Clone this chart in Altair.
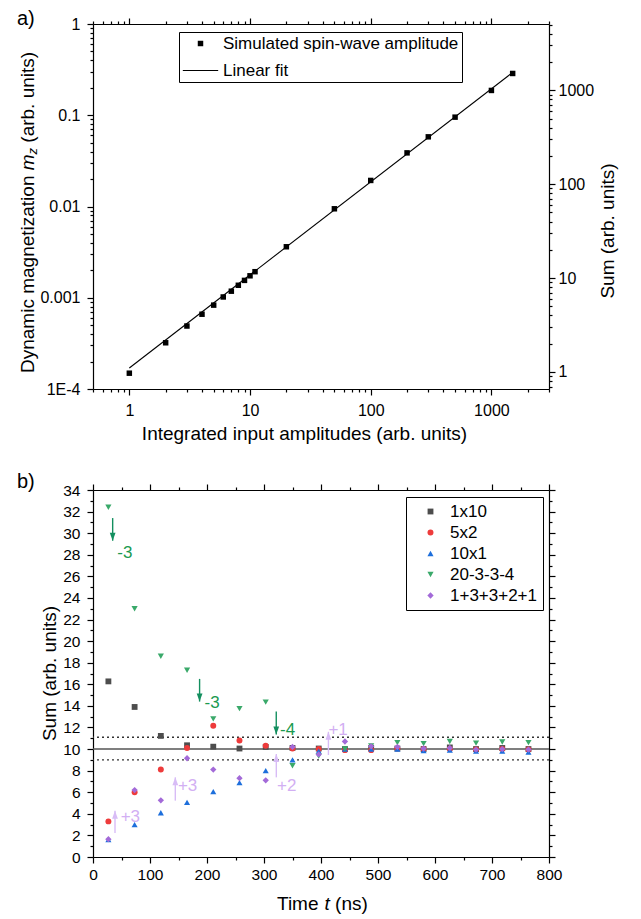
import json
import altair as alt
import pandas as pd

FONT = "Liberation Sans"

# ---------------- panel a) data ----------------
amp_x = [1, 2, 3, 4, 5, 6, 7, 8, 9, 10, 11, 20, 50, 100, 200, 300, 500, 1000, 1500]
amp_m = [1.49e-4, 3.21e-4, 4.9e-4, 6.6e-4, 8.3e-4, 1.02e-3, 1.18e-3, 1.37e-3, 1.55e-3,
         1.74e-3, 1.93e-3, 3.62e-3, 9.44e-3, 0.0193, 0.0387, 0.058, 0.0953, 0.187, 0.287]
fit_x = [1, 1500]
fit_m = [1.7e-4, 0.295]
legend_a = ["Simulated spin-wave amplitude", "Linear fit"]

ax_major = [1, 10, 100, 1000]
ax_labels = ["1", "10", "100", "1000"]
ax_minor = [0.5, 0.6, 0.7, 0.8, 0.9, 2, 3, 4, 5, 6, 7, 8, 9, 20, 30, 40, 50, 60, 70, 80, 90,
            200, 300, 400, 500, 600, 700, 800, 900, 2000, 3000]
ay_major = [0.0001, 0.001, 0.01, 0.1, 1]
ay_labels = ["1E-4", "0.001", "0.01", "0.1", "1"]
ay_minor = [0.0002, 0.0003, 0.0004, 0.0005, 0.0006, 0.0007, 0.0008, 0.0009,
            0.002, 0.003, 0.004, 0.005, 0.006, 0.007, 0.008, 0.009,
            0.02, 0.03, 0.04, 0.05, 0.06, 0.07, 0.08, 0.09,
            0.2, 0.3, 0.4, 0.5, 0.6, 0.7, 0.8, 0.9]
sum_major = [1, 10, 100, 1000]
sum_labels = ["1", "10", "100", "1000"]
sum_minor = [0.7, 0.8, 0.9, 2, 3, 4, 5, 6, 7, 8, 9, 20, 30, 40, 50, 60, 70, 80, 90,
             200, 300, 400, 500, 600, 700, 800, 900, 2000, 3000, 4000, 5000]

# ---------------- panel b) data ----------------
times = [27, 73, 119, 165, 211, 257, 303, 350, 396, 442, 488, 534, 580, 626, 672, 718, 764]
series_names = ["1x10", "5x2", "10x1", "20-3-3-4", "1+3+3+2+1"]
s_1x10 = [16.27, 13.9, 11.22, 10.35, 10.22, 10.05, 10.2, 10.1, 10.05, 10.0, 10.1, 10.05, 10.0, 10.15, 10.0, 10.1, 10.0]
s_5x2 = [3.3, 6.0, 8.1, 10.1, 12.15, 10.8, 10.3, 10.05, 10.0, 9.9, 9.9, 10.05, 10.0, 10.0, 9.95, 10.0, 9.95]
s_10x1 = [1.6, 3.0, 4.1, 5.05, 6.05, 6.9, 8.0, 9.0, 9.8, 10.0, 10.0, 10.0, 9.85, 9.9, 9.8, 9.8, 9.72]
s_20334 = [32.4, 23.0, 18.6, 17.3, 12.8, 13.75, 14.35, 8.45, 9.35, 10.0, 10.3, 10.6, 10.5, 10.7, 10.55, 10.65, 10.6]
s_13321 = [1.65, 6.2, 5.25, 9.15, 8.1, 7.3, 7.1, 10.2, 9.5, 10.7, 10.25, 10.2, 10.05, 10.1, 9.95, 10.0, 9.95]
series_vals = [s_1x10, s_5x2, s_10x1, s_20334, s_13321]
series_colors = ["#4d4d4d", "#ee3b3b", "#1d6fdc", "#3aa96a", "#a36ad8"]
series_shapes = ["square", "circle", "triangle-up", "triangle-down", "diamond"]
series_sizes = [34, 40, 48, 48, 48]

ref_solid = [10.0]
ref_dotted = [11.1, 9.0]

x_major_b = [0, 100, 200, 300, 400, 500, 600, 700, 800]
x_minor_b = [50, 150, 250, 350, 450, 550, 650, 750]
y_major_b = [0, 2, 4, 6, 8, 10, 12, 14, 16, 18, 20, 22, 24, 26, 28, 30, 32, 34]
y_minor_b = [1, 3, 5, 7, 9, 11, 13, 15, 17, 19, 21, 23, 25, 27, 29, 31, 33]

green_t = [34.5, 187, 321.5]
green_from = [31.4, 16.5, 13.47]
green_to = [29.3, 14.4, 11.35]
green_lab_t = [56, 209, 341.5]
green_lab_y = [28.2, 14.3, 11.8]
green_lab = ["-3", "-3", "-4"]

purple_t = [38.6, 144.4, 321.6, 413]
purple_from = [2.22, 5.22, 7.38, 9.45]
purple_to = [4.29, 7.38, 9.54, 11.6]
purple_lab_t = [65.5, 166, 340, 430]
purple_lab_y = [3.74, 6.6, 6.6, 11.8]
purple_lab = ["+3", "+3", "+2", "+1"]


# ---------------- helpers ----------------
def label_expr(vals, labels):
    e = "''"
    for v, l in reversed(list(zip(vals, labels))):
        e = f"datum.value == {v} ? '{l}' : {e}"
    return e


def tsize(major, big=6, small=3):
    return {"condition": {"test": f"indexof({json.dumps(major)}, datum.value) >= 0", "value": big},
            "value": small}


def axis(orient, major, minor, labels=None, size=16, pad=7):
    kw = dict(orient=orient, values=sorted(major + minor), tickSize=tsize(major), title=None,
              grid=False, tickColor="black", tickWidth=1.2, domainColor="black",
              domainWidth=1.2, labelOverlap=False, labelFlush=False, labelBound=False)
    if labels is None:
        kw["labels"] = False
    else:
        kw.update(labelExpr=label_expr(major, labels), labelFont=FONT, labelFontSize=size,
                  labelColor="black", labelPadding=pad)
    return alt.Axis(**kw)


def txt(text, x, y, size=19, angle=0, align="center", baseline="middle", style="normal",
        color="black"):
    return alt.Chart(pd.DataFrame({"d": [0]})).mark_text(
        text=text, font=FONT, fontSize=size, angle=angle, align=align, baseline=baseline,
        fontStyle=style, color=color
    ).encode(x=alt.value(x), y=alt.value(y))


# ---------------- panel a) ----------------
dfa = pd.DataFrame({"x": amp_x, "m": amp_m, "serA": legend_a[0]})
dff = pd.DataFrame({"x": fit_x, "m": fit_m})
dfs = pd.DataFrame({"x": ax_major, "s": sum_major})

xs_a = alt.Scale(type="log", domain=[0.5, 3000], nice=False)
ys_a = alt.Scale(type="log", domain=[1e-4, 1], nice=False)
ss_a = alt.Scale(type="log", domain=[0.659, 5080], nice=False)

# legend symbol for the fit: a thin filled bar that reads as a line
FIT_SYMBOL = "M-1,-0.035L1,-0.035L1,0.035L-1,0.035Z"

leg_a = alt.Legend(title=None, orient="none", legendX=86, legendY=8, strokeColor="black",
                   fillColor="white", padding=3, labelFont=FONT, labelFontSize=17,
                   labelColor="black", labelOffset=4, rowPadding=-6, labelLimit=400)

line_a = alt.Chart(dff).mark_line(color="black", strokeWidth=1.1).encode(
    x=alt.X("x:Q", scale=xs_a, axis=None),
    y=alt.Y("m:Q", scale=ys_a, axis=None),
)
pts_a = alt.Chart(dfa).mark_point(filled=True, color="black", opacity=1).encode(
    x=alt.X("x:Q", scale=xs_a, axis=axis("bottom", ax_major, ax_minor, ax_labels, 16, 7)),
    y=alt.Y("m:Q", scale=ys_a, axis=axis("left", ay_major, ay_minor, ay_labels, 16, 7)),
    shape=alt.Shape("serA:N", scale=alt.Scale(domain=legend_a, range=["square", FIT_SYMBOL]),
                    legend=leg_a),
    size=alt.Size("serA:N", scale=alt.Scale(domain=legend_a, range=[30, 1250]), legend=leg_a),
)
sum_a = alt.Chart(dfs).mark_point(opacity=0).encode(
    x=alt.X("x:Q", scale=xs_a, axis=axis("top", ax_major, ax_minor)),
    y=alt.Y("s:Q", scale=ss_a, axis=axis("right", sum_major, sum_minor, sum_labels, 16, 3)),
)

texts_a = [
    txt("a)", -76, -15, size=20, align="left", baseline="top"),
    txt("Dynamic magnetization", -65.4, 349, angle=270, align="left"),
    txt("m", -65.4, 146.3, angle=270, align="left", style="italic"),
    txt("z", -60.5, 130.5, size=13, angle=270, align="left", style="italic"),
    txt("(arb. units)", -65.4, 118.7, angle=270, align="left"),
    txt("Sum (arb. units)", 515, 207, angle=270),
    txt("Integrated input amplitudes (arb. units)", 211.5, 410),
]

top = alt.layer(line_a, pts_a, sum_a, *texts_a).resolve_scale(
    y="independent").properties(width=456, height=365)

# ---------------- panel b) ----------------
rows = []
for name, vals in zip(series_names, series_vals):
    for t, v in zip(times, vals):
        rows.append({"t": t, "v": v, "serB": name})
df_b = pd.DataFrame(rows)

xs_b = alt.Scale(domain=[0, 800], nice=False, zero=False)
ys_b = alt.Scale(domain=[0, 34], nice=False, zero=False)

leg_b = alt.Legend(title=None, orient="none", legendX=313, legendY=7, strokeColor="black",
                   fillColor="white", padding=6, symbolOffset=10, labelFont=FONT,
                   labelFontSize=17, labelColor="black", labelOffset=11, rowPadding=3,
                   symbolSize=40, symbolStrokeWidth=0)

dotted = alt.Chart(pd.DataFrame({"y": ref_dotted})).mark_rule(
    color="#333333", strokeWidth=1.4, strokeDash=[2, 3]).encode(
    y=alt.Y("y:Q", scale=ys_b, axis=None))
solid = alt.Chart(pd.DataFrame({"y": ref_solid})).mark_rule(
    color="#555555", strokeWidth=1.6).encode(
    y=alt.Y("y:Q", scale=ys_b, axis=None))

pts_b = alt.Chart(df_b).mark_point(filled=True, opacity=1).encode(
    x=alt.X("t:Q", scale=xs_b,
            axis=axis("bottom", x_major_b, x_minor_b, [str(v) for v in x_major_b], 15.5, 4)),
    y=alt.Y("v:Q", scale=ys_b,
            axis=axis("left", y_major_b, y_minor_b, [str(v) for v in y_major_b], 15.5, 7)),
    color=alt.Color("serB:N", scale=alt.Scale(domain=series_names, range=series_colors),
                    legend=leg_b),
    shape=alt.Shape("serB:N", scale=alt.Scale(domain=series_names, range=series_shapes),
                    legend=leg_b),
    size=alt.Size("serB:N", scale=alt.Scale(domain=series_names, range=series_sizes),
                  legend=None),
)

GREEN = "#138f5f"
GREEN_TXT = "#1a9a50"
PURPLE = "#d8bcf6"
PURPLE_TXT = "#d2aff3"
HEAD_DOWN = "M0,0L-0.36,-1L0.36,-1Z"
HEAD_UP = "M0,0L-0.36,1L0.36,1Z"

dfg = pd.DataFrame({"t": green_t, "y0": green_from, "y1": green_to})
dfp = pd.DataFrame({"t": purple_t, "y0": purple_from, "y1": purple_to})
g_rule = alt.Chart(dfg).mark_rule(color=GREEN, strokeWidth=1.4).encode(
    x=alt.X("t:Q", scale=xs_b, axis=axis("top", x_major_b, x_minor_b)),
    y=alt.Y("y0:Q", scale=ys_b, axis=axis("right", y_major_b, y_minor_b)), y2="y1:Q")
g_head = alt.Chart(dfg).mark_point(shape=HEAD_DOWN, filled=True, size=256, color=GREEN,
                                   opacity=1).encode(
    x=alt.X("t:Q", scale=xs_b, axis=None), y=alt.Y("y1:Q", scale=ys_b, axis=None))
p_rule = alt.Chart(dfp).mark_rule(color=PURPLE, strokeWidth=1.4).encode(
    x=alt.X("t:Q", scale=xs_b, axis=None),
    y=alt.Y("y0:Q", scale=ys_b, axis=None), y2="y1:Q")
p_head = alt.Chart(dfp).mark_point(shape=HEAD_UP, filled=True, size=256, color=PURPLE,
                                   opacity=1).encode(
    x=alt.X("t:Q", scale=xs_b, axis=None), y=alt.Y("y1:Q", scale=ys_b, axis=None))

g_txt = alt.Chart(pd.DataFrame({"t": green_lab_t, "y": green_lab_y, "l": green_lab})).mark_text(
    font=FONT, fontSize=17, color=GREEN_TXT).encode(
    x=alt.X("t:Q", scale=xs_b, axis=None), y=alt.Y("y:Q", scale=ys_b, axis=None), text="l:N")
p_txt = alt.Chart(pd.DataFrame({"t": purple_lab_t, "y": purple_lab_y, "l": purple_lab})).mark_text(
    font=FONT, fontSize=17, color=PURPLE_TXT).encode(
    x=alt.X("t:Q", scale=xs_b, axis=None), y=alt.Y("y:Q", scale=ys_b, axis=None), text="l:N")

texts_b = [
    txt("b)", -76, -18, size=20, align="left", baseline="top"),
    txt("Sum (arb. units)", -43, 183.5, angle=270),
    txt("Time", 184, 414, align="left"),
    txt("t", 231.5, 414, align="left", style="italic"),
    txt("(ns)", 242.1, 414, align="left"),
]

bottom = alt.layer(dotted, solid, pts_b, g_rule, p_rule, g_head, p_head, g_txt, p_txt,
                   *texts_b).properties(width=456, height=367)

chart = alt.vconcat(top, bottom, spacing=26).resolve_scale(
    shape="independent", size="independent", color="independent"
).resolve_legend(
    shape="independent", size="independent", color="independent"
).properties(
    padding={"left": 8, "top": 0, "right": 5, "bottom": 5}
).configure_view(stroke="black", strokeWidth=1.2).configure(font=FONT)

chart.save("out.html", embed_options={"renderer": "svg", "actions": False})
